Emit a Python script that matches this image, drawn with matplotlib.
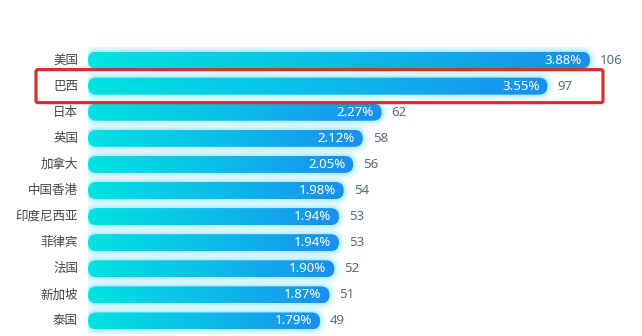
import numpy as np
import matplotlib
matplotlib.use("Agg")
import matplotlib.pyplot as plt
from matplotlib.patches import FancyBboxPatch
from matplotlib.colors import LinearSegmentedColormap

plt.rcParams['font.family'] = ['Noto Sans CJK SC', 'DejaVu Sans']

categories = ["美国", "巴西", "日本", "英国", "加拿大", "中国香港", "印度尼西亚", "菲律宾", "法国", "新加坡", "泰国"]
counts = [106, 97, 62, 58, 56, 54, 53, 53, 52, 51, 49]
percents = ["3.88%", "3.55%", "2.27%", "2.12%", "2.05%", "1.98%", "1.94%", "1.94%", "1.90%", "1.87%", "1.79%"]
highlight = "巴西"

W, H, DPI = 642, 336, 100
fig = plt.figure(figsize=(W / DPI, H / DPI), dpi=DPI)
fig.patch.set_facecolor("white")

x0_px, top_px, bot_px = 88, 47, 334
ax = fig.add_axes([x0_px / W, (H - bot_px) / H, (W - x0_px) / W, (bot_px - top_px) / H])
ax.set_axis_off()
n = len(categories)
xmax = 106 * (W - x0_px) / (590 - x0_px)
ax.set_xlim(0, xmax)
ax.set_ylim(n - 0.5, -0.5)

ux = xmax / (W - x0_px)            # data x per pixel
uy = n / (bot_px - top_px)          # data y per pixel
bar_h_px = 17
bar_h = bar_h_px * uy
r = bar_h_px / 2 * ux
aspect = uy / ux

cmap = LinearSegmentedColormap.from_list("g", ["#00e3e0", "#0bbde9", "#1a8ef0"])
grad = np.linspace(0, 1, 256).reshape(1, -1)
num_font = ['Noto Sans', 'DejaVu Sans']

for i, (cat, c, p) in enumerate(zip(categories, counts, percents)):
    y = i
    # glow
    for lw, a in [(10, 0.10), (7, 0.16), (4, 0.28), (2, 0.4)]:
        g = FancyBboxPatch((0, y - bar_h / 2), c, bar_h,
                           boxstyle=f"round,pad=0,rounding_size={r}",
                           mutation_aspect=aspect, facecolor="none",
                           edgecolor="#8fe9ff", linewidth=lw, alpha=a, zorder=1)
        ax.add_patch(g)
    patch = FancyBboxPatch((0, y - bar_h / 2), c, bar_h,
                           boxstyle=f"round,pad=0,rounding_size={r}",
                           mutation_aspect=aspect, facecolor="none",
                           edgecolor="none", zorder=2)
    ax.add_patch(patch)
    im = ax.imshow(grad, cmap=cmap, aspect="auto",
                   extent=(0, c, y + bar_h / 2, y - bar_h / 2), zorder=2)
    im.set_clip_path(patch)
    ax.text(c - 8 * ux, y, p, ha="right", va="center", color="white",
            fontsize=9.5, family=num_font, zorder=3)
    ax.text(c + 10 * ux, y, str(c), ha="left", va="center", color="#56697c",
            fontsize=9.5, family=num_font, zorder=3)
    ax.text(-10 * ux, y, cat, ha="right", va="center", color="#444444",
            fontsize=9, zorder=3)

ax.set_xlim(0, xmax)
ax.set_ylim(n - 0.5, -0.5)

# highlight box
hi = categories.index(highlight)
bx0 = (36 - x0_px) * ux
bx1 = (603 - x0_px) * ux
bh = 33 * uy
box = FancyBboxPatch((bx0, hi - bh / 2), bx1 - bx0, bh,
                     boxstyle=f"round,pad=0,rounding_size={2 * ux}",
                     mutation_aspect=aspect, facecolor="none",
                     edgecolor="#d0322c", linewidth=2.3, clip_on=False, zorder=5)
ax.add_patch(box)

fig.savefig("out.png", dpi=DPI, facecolor="white")
